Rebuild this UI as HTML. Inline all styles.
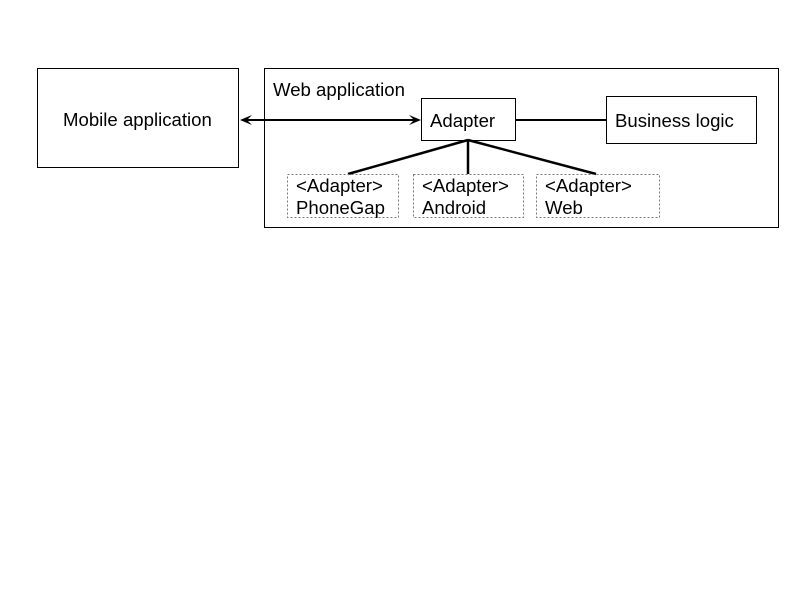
<!DOCTYPE html>
<html><head><style>body{margin:0;background:#fff}</style></head><body>
<svg width="800" height="600" xmlns="http://www.w3.org/2000/svg" font-family="Liberation Sans, sans-serif" font-size="18.6">
<rect width="800" height="600" fill="#fff"/>
<rect x="37.5" y="68.5" width="201" height="99" fill="none" stroke="#000"/>
<text x="63" y="126">Mobile application</text>
<rect x="264.5" y="68.5" width="514" height="159" fill="none" stroke="#000"/>
<text x="273" y="96">Web application</text>
<rect x="421.5" y="98.5" width="94" height="42" fill="none" stroke="#000"/>
<text x="430" y="127">Adapter</text>
<rect x="606.5" y="96.5" width="150" height="47" fill="none" stroke="#000"/>
<text x="615" y="127">Business logic</text>
<line x1="515" y1="120" x2="606" y2="120" stroke="#000" stroke-width="2"/>
<line x1="244" y1="120" x2="416" y2="120" stroke="#000" stroke-width="2"/>
<path d="M240,120 L252,115 L247,120 L252,125Z" fill="#000"/>
<path d="M421,120 L409,115 L414,120 L409,125Z" fill="#000"/>
<g stroke="#000" stroke-width="2.5">
<line x1="468" y1="140" x2="348" y2="174"/>
<line x1="468" y1="140" x2="468" y2="174"/>
<line x1="468" y1="140" x2="596" y2="174"/>
</g>
<g fill="none" stroke="#777" stroke-dasharray="2,2">
<rect x="287.5" y="174.5" width="111" height="43"/>
<rect x="413.5" y="174.5" width="110" height="43"/>
<rect x="536.5" y="174.5" width="123" height="43"/>
</g>
<text x="296" y="192">&lt;Adapter&gt;</text><text x="296" y="214">PhoneGap</text>
<text x="422" y="192">&lt;Adapter&gt;</text><text x="422" y="214">Android</text>
<text x="545" y="192">&lt;Adapter&gt;</text><text x="545" y="214">Web</text>
</svg>
</body></html>
